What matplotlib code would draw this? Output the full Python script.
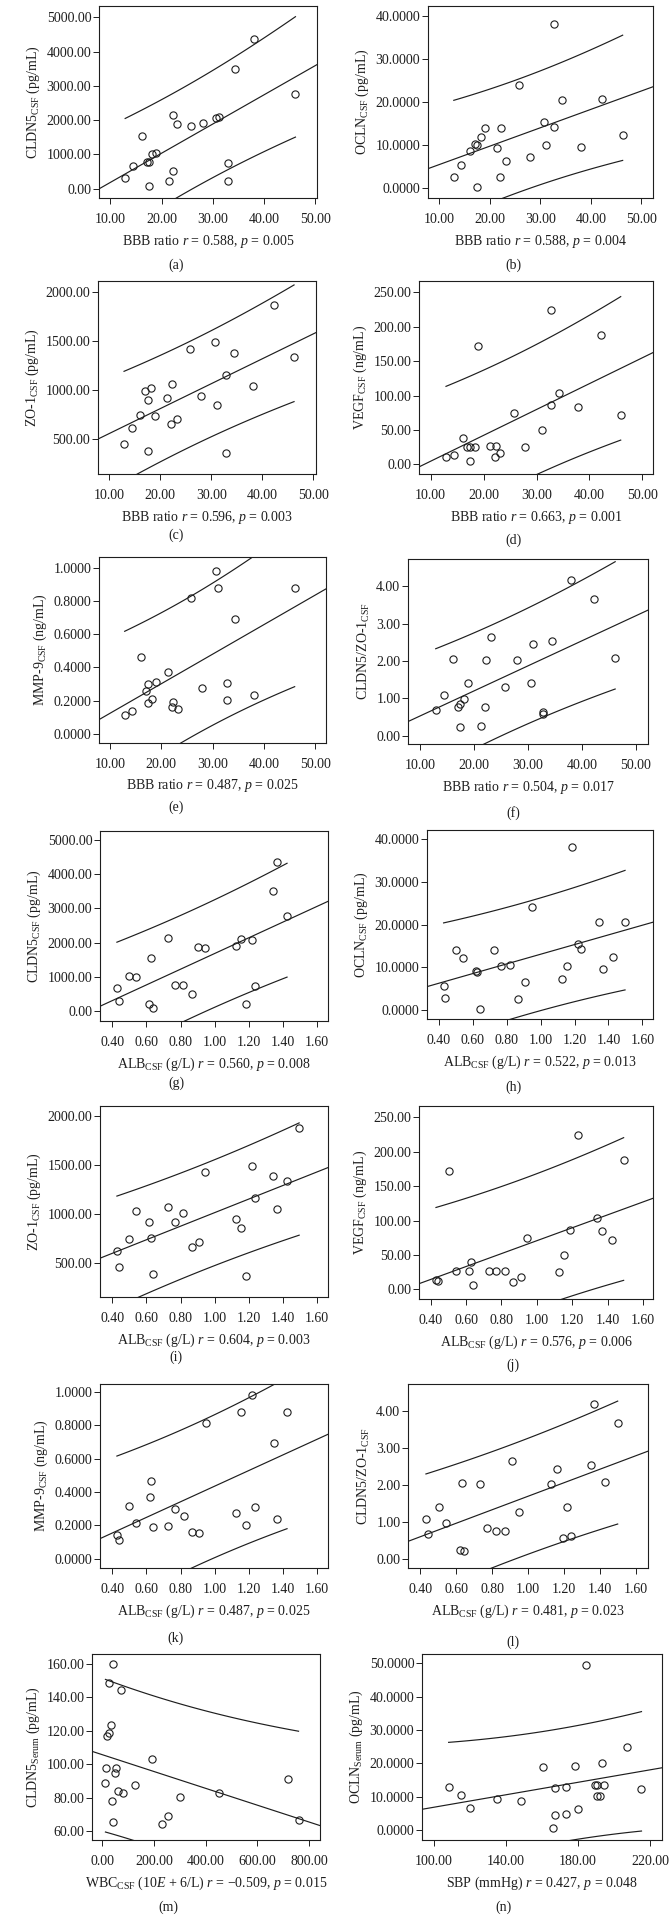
import numpy as np
import matplotlib
matplotlib.use('Agg')
import matplotlib.pyplot as plt
from matplotlib.ticker import FormatStrFormatter

plt.rcParams['font.family'] = ['Liberation Serif', 'DejaVu Serif']
plt.rcParams['mathtext.fontset'] = 'custom'
plt.rcParams['mathtext.rm'] = 'Liberation Serif'
plt.rcParams['mathtext.it'] = 'Liberation Serif:italic'

# ---- data ----
bbb_a = [12.9, 14.4, 16.1, 17.1, 17.6, 17.5, 18.2, 19.0, 21.4, 22.2, 22.3, 23.1, 25.8, 28.0, 30.6, 31.1, 32.9, 32.9, 34.4, 38.1, 46.1]
cldn5_a = [311, 670, 1544, 767, 767, 87, 1010, 1039, 214, 505, 2146, 1874, 1825, 1903, 2068, 2087, 738, 214, 3505, 4359, 2777]

bbb_b = [12.9, 14.3, 16.1, 17.0, 17.5, 17.5, 18.2, 19.0, 21.4, 22.1, 22.3, 23.2, 25.8, 28.0, 30.7, 31.1, 32.8, 32.8, 34.4, 38.1, 42.2, 46.3]
ocln_b = [2.73, 5.54, 8.73, 10.37, 10.14, 0.23, 11.9, 13.9, 9.28, 2.57, 13.96, 6.47, 23.94, 7.25, 15.36, 10.14, 38.1, 14.27, 20.43, 9.51, 20.6, 12.32]

bbb_c = [12.9, 14.4, 16.1, 17.1, 17.5, 17.5, 18.2, 18.95, 21.4, 22.1, 22.3, 23.2, 25.9, 28.0, 30.65, 31.1, 32.9, 32.9, 34.4, 38.1, 42.3, 46.2]
zo1_c = [449, 609, 749, 994, 902, 377, 1021, 735, 916, 657, 1059, 704, 1424, 937, 1489, 848, 1154, 353, 1376, 1041, 1874, 1335]

bbb_d = [12.9, 14.4, 16.1, 16.9, 17.5, 18.3, 17.5, 18.9, 21.2, 22.1, 22.3, 23.1, 25.7, 27.9, 31.0, 32.7, 32.7, 34.3, 37.9, 42.1, 45.9]
vegf_d = [11.2, 13.2, 38.5, 25.8, 25.8, 25.8, 5.4, 171.5, 26, 10, 26, 17, 75, 25, 50, 87, 224, 103, 84, 188.6, 71.6]

bbb_e = [12.9, 14.4, 16.1, 17.0, 17.5, 17.5, 18.2, 19.0, 21.4, 22.1, 22.3, 23.2, 25.8, 28.0, 30.6, 31.0, 32.8, 32.8, 34.4, 38.1, 46.0]
mmp9_e = [0.110, 0.140, 0.465, 0.257, 0.297, 0.186, 0.212, 0.313, 0.371, 0.160, 0.194, 0.150, 0.816, 0.275, 0.982, 0.880, 0.307, 0.202, 0.691, 0.236, 0.880]

bbb_f = [12.85, 14.3, 16.0, 16.9, 17.4, 17.4, 18.1, 18.85, 21.3, 22.1, 22.2, 23.1, 25.7, 28.0, 30.6, 31.0, 32.8, 32.8, 34.4, 38.05, 42.2, 46.2]
ratio_f = [0.689, 1.083, 2.049, 0.76, 0.85, 0.233, 0.984, 1.414, 0.25, 0.77, 2.02, 2.64, 1.29, 2.02, 1.41, 2.45, 0.644, 0.58, 2.53, 4.16, 3.67, 2.08]

alb_g = [0.427, 0.439, 0.498, 0.539, 0.617, 0.628, 0.638, 0.728, 0.765, 0.816, 0.866, 0.905, 0.946, 1.126, 1.155, 1.216, 1.184, 1.235, 1.344, 1.364, 1.424]
cldn5_g = [670, 311, 1039, 1010, 223, 1553, 87, 2146, 767, 767, 505, 1883, 1835, 1903, 2097, 2078, 214, 738, 3515, 4359, 2777]

alb_h = [0.427, 0.437, 0.498, 0.539, 0.616, 0.627, 0.639, 0.727, 0.767, 0.818, 0.867, 0.908, 0.949, 1.127, 1.157, 1.186, 1.22, 1.239, 1.347, 1.369, 1.427, 1.498]
ocln_h = [5.55, 2.73, 13.9, 12.03, 9.14, 8.75, 0.23, 13.9, 10.16, 10.39, 2.58, 6.48, 24.06, 7.19, 10.16, 38.1, 15.39, 14.3, 20.55, 9.53, 12.42, 20.7]

alb_i = [0.427, 0.439, 0.498, 0.539, 0.617, 0.628, 0.638, 0.728, 0.767, 0.816, 0.866, 0.907, 0.946, 1.126, 1.157, 1.186, 1.216, 1.237, 1.344, 1.364, 1.424, 1.495]
zo1_i = [619, 459, 744, 1030, 924, 758, 388, 1067, 914, 1006, 666, 710, 1430, 945, 856, 364, 1495, 1162, 1383, 1050, 1342, 1878]

alb_j = [0.430, 0.442, 0.502, 0.542, 0.619, 0.629, 0.640, 0.727, 0.769, 0.820, 0.867, 0.908, 0.946, 1.128, 1.156, 1.185, 1.235, 1.343, 1.366, 1.423, 1.491]
vegf_j = [13.1, 11.65, 171.4, 26.7, 26.7, 39.3, 5.8, 26.7, 26.7, 26.2, 11.2, 17.5, 75.2, 25.2, 50, 86.9, 223.8, 103.4, 84.5, 71.8, 187.9]

alb_k = [0.427, 0.439, 0.500, 0.539, 0.619, 0.628, 0.638, 0.728, 0.769, 0.818, 0.866, 0.907, 0.948, 1.126, 1.157, 1.186, 1.218, 1.237, 1.346, 1.366, 1.424]
mmp9_k = [0.144, 0.112, 0.314, 0.212, 0.370, 0.464, 0.188, 0.196, 0.298, 0.258, 0.162, 0.152, 0.816, 0.276, 0.880, 0.204, 0.982, 0.308, 0.692, 0.238, 0.880]

alb_l = [0.431, 0.443, 0.502, 0.543, 0.619, 0.631, 0.643, 0.731, 0.770, 0.822, 0.872, 0.913, 0.952, 1.131, 1.161, 1.193, 1.220, 1.241, 1.35, 1.37, 1.431, 1.50]
ratio_l = [1.079, 0.683, 1.402, 0.980, 0.243, 2.04, 0.225, 2.01, 0.836, 0.755, 0.755, 2.64, 1.267, 2.02, 2.44, 0.566, 1.402, 0.629, 2.53, 4.18, 2.076, 3.68]

wbc_m = [43, 27, 73, 33, 27, 17, 15, 52, 48, 12, 60, 80, 38, 43, 191, 128, 301, 253, 230, 451, 719, 759]
cldn5s_m = [159.8, 148.4, 144.2, 123.7, 118.7, 117.1, 97.5, 97.5, 94.5, 88.5, 83.8, 82.6, 77.8, 65.4, 103.3, 87.3, 80.2, 69.0, 64.4, 82.6, 90.9, 66.4]

sbp_n = [108.1, 114.8, 119.9, 135.2, 148.1, 160.3, 167.0, 167.0, 166.0, 173.2, 173.2, 178.2, 180.1, 184.2, 189.2, 190.4, 190.4, 192.1, 193.1, 194.3, 207.2, 215.3]
oclns_n = [13.0, 10.4, 6.5, 9.2, 8.6, 18.9, 12.6, 4.6, 0.7, 12.8, 4.8, 19.2, 6.3, 49.4, 13.4, 13.4, 10.2, 10.3, 20.1, 13.4, 24.8, 12.3]

bbb_ticks = [10, 20, 30, 40, 50]
alb_ticks = [0.4, 0.6, 0.8, 1.0, 1.2, 1.4, 1.6]

# t(0.95, df): the bands drawn are 90% individual prediction intervals
T_CRIT = {19: 1.729, 20: 1.725}

FS = 10
INK = '#1e1e1e'


def bbb_label(r, p):
    return 'BBB ratio $r$ = ' + r + ', $p$ = ' + p


def alb_label(r, p):
    return r'ALB$_{\mathrm{CSF}}$ (g/L) $r$ = ' + r + ', $p$ = ' + p


W, H = 672, 1921
fig = plt.figure(figsize=(W / 100, H / 100), dpi=100)


def fit_lines(ax, x, y, xlim):
    x = np.asarray(x, float)
    y = np.asarray(y, float)
    n = len(x)
    b, a = np.polyfit(x, y, 1)
    s = np.sqrt(np.sum((y - (a + b * x)) ** 2) / (n - 2))
    sxx = np.sum((x - x.mean()) ** 2)
    t = T_CRIT[n - 2]
    xs = np.linspace(xlim[0], xlim[1], 50)
    ax.plot(xs, a + b * xs, color=INK, lw=0.85)
    xb = np.linspace(x.min(), x.max(), 120)
    half = t * s * np.sqrt(1 + 1 / n + (xb - x.mean()) ** 2 / sxx)
    ax.plot(xb, a + b * xb + half, color=INK, lw=0.85)
    ax.plot(xb, a + b * xb - half, color=INK, lw=0.85)


def panel(box, x, y, xlim, ylim, xticks, yticks, yfmt, ylabel, xlabel, cap, cap_x, cap_y):
    l, r, t, btm = box
    ax = fig.add_axes([l / W, 1 - btm / H, (r - l) / W, (btm - t) / H])
    ax.plot(x, y, 'o', mfc='none', mec=INK, ms=5.2, mew=0.8)
    fit_lines(ax, x, y, xlim)
    ax.set_xlim(xlim)
    ax.set_ylim(ylim)
    ax.set_xticks(xticks)
    ax.set_yticks(yticks)
    ax.xaxis.set_major_formatter(FormatStrFormatter('%.2f'))
    ax.yaxis.set_major_formatter(FormatStrFormatter(yfmt))
    for s in ax.spines.values():
        s.set_linewidth(0.8)
        s.set_color(INK)
    ax.tick_params(direction='out', length=4, width=0.7, labelsize=FS, colors=INK)
    ax.tick_params(axis='x', pad=7)
    ax.tick_params(axis='y', pad=1.5)
    ax.set_ylabel(ylabel, fontsize=FS, labelpad=3, color=INK)
    fig.text((l + r) / 2 / W, 1 - (btm + 43) / H, xlabel, ha='center', va='center',
             fontsize=FS, color=INK)
    fig.text(cap_x / W, 1 - cap_y / H, cap, ha='center', va='center', fontsize=FS, color=INK)
    return ax


panel((99, 317, 6, 198), bbb_a, cldn5_a, (7.8, 50.3), (-272, 5330), bbb_ticks,
      [0, 1000, 2000, 3000, 4000, 5000], '%.2f', r'CLDN5$_{\mathrm{CSF}}$ (pg/mL)',
      bbb_label('0.588', '0.005'), '(a)', 176, 265)
panel((428, 653, 6, 198), bbb_b, ocln_b, (7.8, 52.3), (-2.2, 42.2), bbb_ticks,
      [0, 10, 20, 30, 40], '%.4f', r'OCLN$_{\mathrm{CSF}}$ (pg/mL)',
      bbb_label('0.588', '0.004'), '(b)', 513, 265)
panel((98, 316, 281, 474), bbb_c, zo1_c, (7.8, 50.5), (142, 2116), bbb_ticks,
      [500, 1000, 1500, 2000], '%.2f', r'ZO-1$_{\mathrm{CSF}}$ (pg/mL)',
      bbb_label('0.596', '0.003'), '(c)', 176, 535)
panel((419, 653, 281, 474), bbb_d, vegf_d, (7.8, 52.0), (-14, 266.5), bbb_ticks,
      [0, 50, 100, 150, 200, 250], '%.2f', r'VEGF$_{\mathrm{CSF}}$ (ng/mL)',
      bbb_label('0.663', '0.001'), '(d)', 513, 540)
panel((99, 326, 557, 743), bbb_e, mmp9_e, (7.9, 52.1), (-0.056, 1.066), bbb_ticks,
      [0, 0.2, 0.4, 0.6, 0.8, 1.0], '%.4f', r'MMP-9$_{\mathrm{CSF}}$ (ng/mL)',
      bbb_label('0.487', '0.025'), '(e)', 176, 807)
panel((408, 648, 559, 744), bbb_f, ratio_f, (7.7, 52.3), (-0.224, 4.73), bbb_ticks,
      [0, 1, 2, 3, 4], '%.2f', r'CLDN5/ZO-1$_{\mathrm{CSF}}$',
      bbb_label('0.504', '0.017'), '(f)', 513, 813)
panel((100, 328, 831, 1021), alb_g, cldn5_g, (0.328, 1.664), (-282, 5252), alb_ticks,
      [0, 1000, 2000, 3000, 4000, 5000], '%.2f', r'CLDN5$_{\mathrm{CSF}}$ (pg/mL)',
      alb_label('0.560', '0.008'), '(g)', 176, 1083)
panel((427, 653, 830, 1019), alb_h, ocln_h, (0.329, 1.663), (-2.19, 42.19), alb_ticks,
      [0, 10, 20, 30, 40], '%.4f', r'OCLN$_{\mathrm{CSF}}$ (pg/mL)',
      alb_label('0.522', '0.013'), '(h)', 513, 1087)
panel((100, 328, 1106, 1297), alb_i, zo1_i, (0.328, 1.664), (154, 2102), alb_ticks,
      [500, 1000, 1500, 2000], '%.2f', r'ZO-1$_{\mathrm{CSF}}$ (pg/mL)',
      alb_label('0.604', '0.003'), '(i)', 176, 1357)
panel((419, 653, 1106, 1299), alb_j, vegf_j, (0.334, 1.657), (-14.1, 266.5), alb_ticks,
      [0, 50, 100, 150, 200, 250], '%.2f', r'VEGF$_{\mathrm{CSF}}$ (ng/mL)',
      alb_label('0.576', '0.006'), '(j)', 513, 1365)
panel((100, 328, 1384, 1568), alb_k, mmp9_k, (0.328, 1.664), (-0.056, 1.048), alb_ticks,
      [0, 0.2, 0.4, 0.6, 0.8, 1.0], '%.4f', r'MMP-9$_{\mathrm{CSF}}$ (ng/mL)',
      alb_label('0.487', '0.025'), '(k)', 176, 1638)
panel((408, 648, 1384, 1568), alb_l, ratio_l, (0.331, 1.669), (-0.243, 4.72), alb_ticks,
      [0, 1, 2, 3, 4], '%.2f', r'CLDN5/ZO-1$_{\mathrm{CSF}}$',
      alb_label('0.481', '0.023'), '(l)', 513, 1642)
panel((92, 320, 1654, 1840), wbc_m, cldn5s_m, (-40, 842), (54.6, 166), [0, 200, 400, 600, 800],
      [60, 80, 100, 120, 140, 160], '%.2f', r'CLDN5$_{\mathrm{Serum}}$ (pg/mL)',
      r'WBC$_{\mathrm{CSF}}$ (10$E$ + 6/L) $r$ = −0.509, $p$ = 0.015', '(m)', 168, 1907)
panel((422, 662, 1654, 1840), sbp_n, oclns_n, (93.3, 226.7), (-3.0, 52.8), [100, 140, 180, 220],
      [0, 10, 20, 30, 40, 50], '%.4f', r'OCLN$_{\mathrm{Serum}}$ (pg/mL)',
      'SBP (mmHg) $r$ = 0.427, $p$ = 0.048', '(n)', 503, 1907)

fig.savefig('out.png', dpi=100)
